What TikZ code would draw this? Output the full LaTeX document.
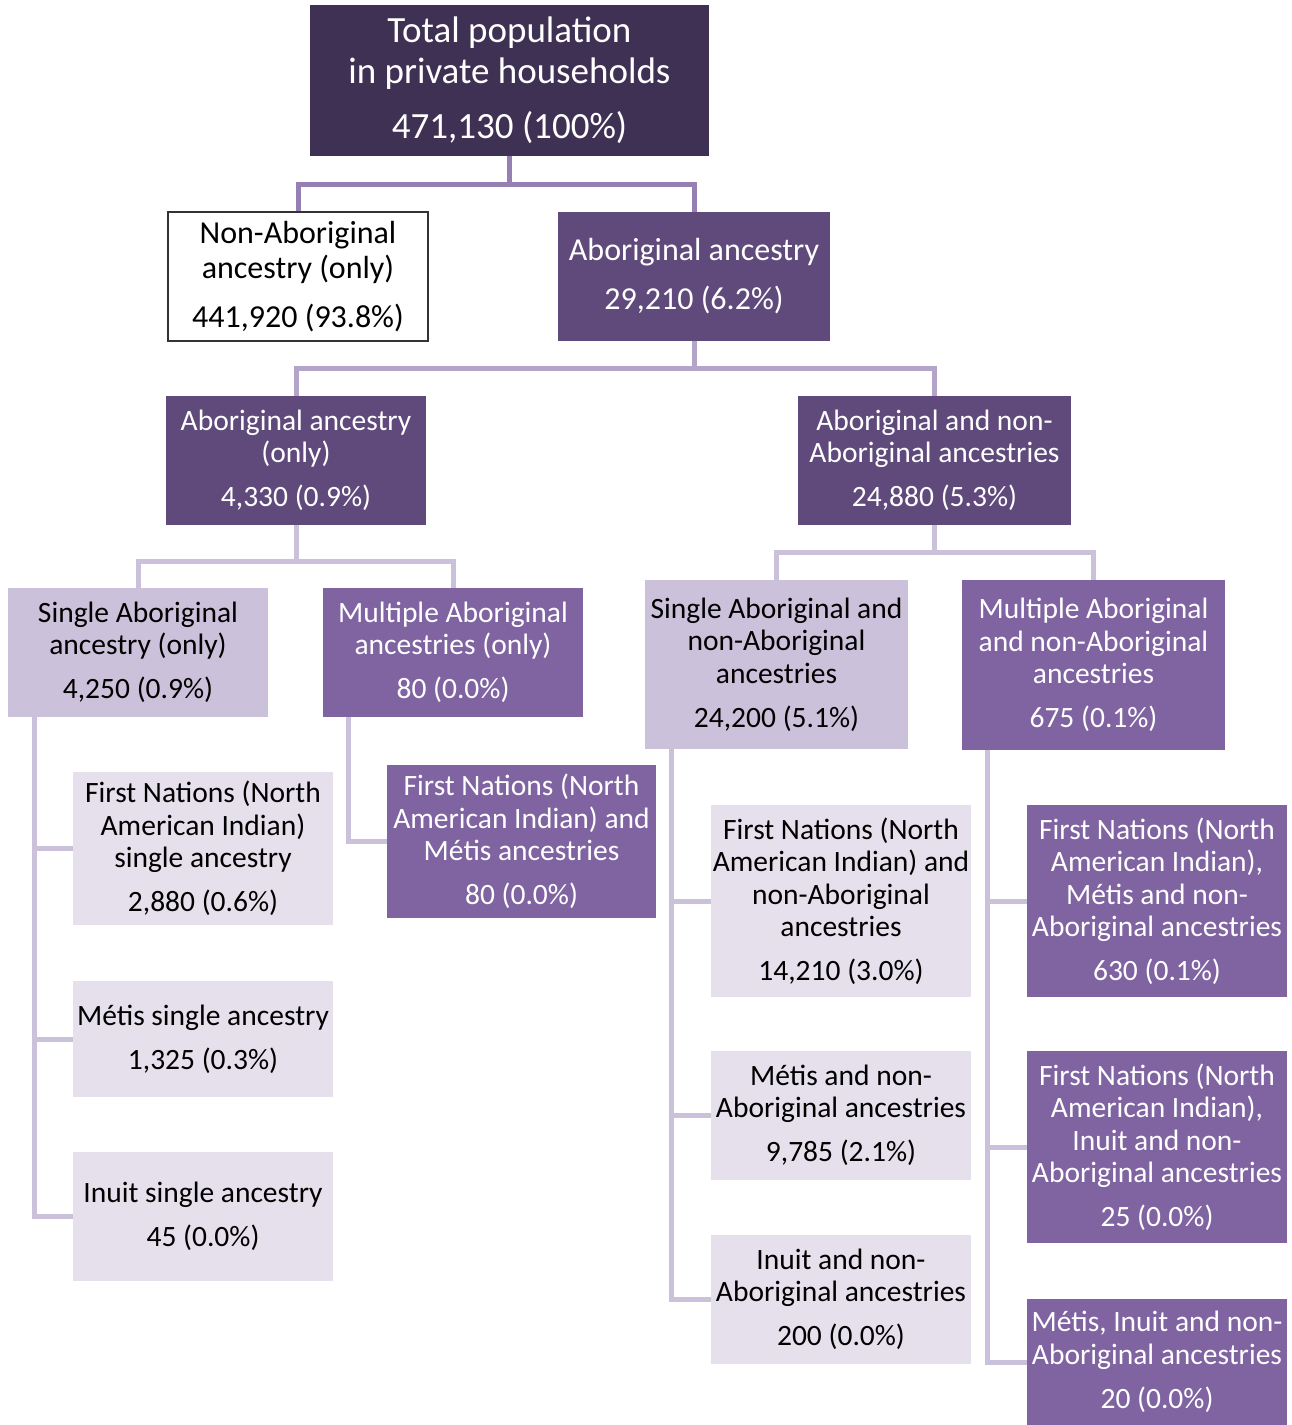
\documentclass[tikz,border=0pt]{standalone}
\usepackage{fontspec}
\setmainfont{Carlito}

\definecolor{plumdark}{RGB}{63,49,84}
\definecolor{plum}{RGB}{96,74,123}
\definecolor{plummid}{RGB}{128,100,162}
\definecolor{lilac}{RGB}{204,193,218}
\definecolor{lilacpale}{RGB}{229,224,236}
\definecolor{linkone}{RGB}{150,128,178}
\definecolor{linktwo}{RGB}{180,164,200}

\begin{document}
\begin{tikzpicture}[x=1pt, y=-1pt,
    box/.style={rectangle, inner sep=0pt, align=center,
        font=\fontsize{29.5}{32.5}\selectfont},
    topbox/.style={box, fill=plumdark, text=white,
        font=\fontsize{37}{41}\selectfont},
    whitebox/.style={box, fill=white, draw=black!80, line width=1.2pt, text=black,
        font=\fontsize{32}{35}\selectfont},
    darkbox/.style={box, fill=plum, text=white},
    midbox/.style={box, fill=plummid, text=white},
    lightbox/.style={box, fill=lilac, text=black},
    palebox/.style={box, fill=lilacpale, text=black},
    link/.style={line width=5pt, draw=lilac}]
        \useasboundingbox (0,0) rectangle (1292,1425);

        %%%%%%%%%% Nodi %%%%%%%%%%
        \node[topbox, minimum width=399, minimum height=151] (total) at (509.5,80.5)
            {Total population\\in private households\\[14pt]471,130 (100\%)};

        \node[whitebox, minimum width=260, minimum height=129] (nonab) at (298,276.5)
            {Non-Aboriginal\\ancestry (only)\\[14pt]441,920 (93.8\%)};
        \node[darkbox, minimum width=272, minimum height=129,
            font=\fontsize{32}{35}\selectfont] (ab) at (694,276.5)
            {Aboriginal ancestry\\[14pt]29,210 (6.2\%)};

        \node[darkbox, minimum width=260, minimum height=129] (abonly) at (296,460.5)
            {Aboriginal ancestry\\(only)\\[11.5pt]4,330 (0.9\%)};
        \node[darkbox, minimum width=273, minimum height=129] (abmix) at (934.5,460.5)
            {Aboriginal and non-\\Aboriginal ancestries\\[11.5pt]24,880 (5.3\%)};

        \node[lightbox, minimum width=260, minimum height=129] (single) at (138,652.5)
            {Single Aboriginal\\ancestry (only)\\[11.5pt]4,250 (0.9\%)};
        \node[midbox, minimum width=260, minimum height=129] (multi) at (453,652.5)
            {Multiple Aboriginal\\ancestries (only)\\[11.5pt]80 (0.0\%)};
        \node[lightbox, minimum width=263, minimum height=169] (singlemix) at (776.5,664.5)
            {Single Aboriginal and\\non-Aboriginal\\ancestries\\[11.5pt]24,200 (5.1\%)};
        \node[midbox, minimum width=263, minimum height=170] (multimix) at (1093.5,665)
            {Multiple Aboriginal\\and non-Aboriginal\\ancestries\\[11.5pt]675 (0.1\%)};

        \node[palebox, minimum width=260, minimum height=153] (fnsingle) at (203,848.5)
            {First Nations (North\\American Indian)\\single ancestry\\[11.5pt]2,880 (0.6\%)};
        \node[palebox, minimum width=260, minimum height=116] (metissingle) at (203,1039)
            {Métis single ancestry\\[11.5pt]1,325 (0.3\%)};
        \node[palebox, minimum width=260, minimum height=129] (inuitsingle) at (203,1216.5)
            {Inuit single ancestry\\[11.5pt]45 (0.0\%)};

        \node[midbox, minimum width=269, minimum height=153] (fnmetis) at (521.5,841.5)
            {First Nations (North\\American Indian) and\\Métis ancestries\\[11.5pt]80 (0.0\%)};

        \node[palebox, minimum width=260, minimum height=192] (fnmix) at (841,901)
            {First Nations (North\\American Indian) and\\non-Aboriginal\\ancestries\\[11.5pt]14,210 (3.0\%)};
        \node[palebox, minimum width=260, minimum height=129] (metismix) at (841,1115.5)
            {Métis and non-\\Aboriginal ancestries\\[11.5pt]9,785 (2.1\%)};
        \node[palebox, minimum width=260, minimum height=129] (inuitmix) at (841,1299.5)
            {Inuit and non-\\Aboriginal ancestries\\[11.5pt]200 (0.0\%)};

        \node[midbox, minimum width=260, minimum height=192] (fnmetismix) at (1157,901)
            {First Nations (North\\American Indian),\\Métis and non-\\Aboriginal ancestries\\[11.5pt]630 (0.1\%)};
        \node[midbox, minimum width=260, minimum height=192] (fninuitmix) at (1157,1147)
            {First Nations (North\\American Indian),\\Inuit and non-\\Aboriginal ancestries\\[11.5pt]25 (0.0\%)};
        \node[midbox, minimum width=260, minimum height=126] (metisinuitmix) at (1157,1362)
            {Métis, Inuit and non-\\Aboriginal ancestries\\[11.5pt]20 (0.0\%)};

        %%%%%%%%% Archi %%%%%%%%%%
        \draw[link, draw=linkone] (total.south) -- ++(0,28) -| (nonab.north);
        \draw[link, draw=linkone] (total.south) -- ++(0,28) -| (ab.north);

        \draw[link, draw=linktwo] (ab.south) -- ++(0,27) -| (abonly.north);
        \draw[link, draw=linktwo] (ab.south) -- ++(0,27) -| (abmix.north);

        \draw[link] (abonly.south) -- ++(0,36) -| (single.north);
        \draw[link] (abonly.south) -- ++(0,36) -| (multi.north);
        \draw[link] (abmix.south) -- ++(0,27) -| (singlemix.north);
        \draw[link] (abmix.south) -- ++(0,27) -| (multimix.north);

        \draw[link] ([xshift=27]single.south west) |- (fnsingle.west);
        \draw[link] ([xshift=27]single.south west) |- (metissingle.west);
        \draw[link] ([xshift=27]single.south west) |- (inuitsingle.west);

        \draw[link] ([xshift=26]multi.south west) |- (fnmetis.west);

        \draw[link] ([xshift=27]singlemix.south west) |- (fnmix.west);
        \draw[link] ([xshift=27]singlemix.south west) |- (metismix.west);
        \draw[link] ([xshift=27]singlemix.south west) |- (inuitmix.west);

        \draw[link] ([xshift=26]multimix.south west) |- (fnmetismix.west);
        \draw[link] ([xshift=26]multimix.south west) |- (fninuitmix.west);
        \draw[link] ([xshift=26]multimix.south west) |- (metisinuitmix.west);
    \end{tikzpicture}
\end{document}
